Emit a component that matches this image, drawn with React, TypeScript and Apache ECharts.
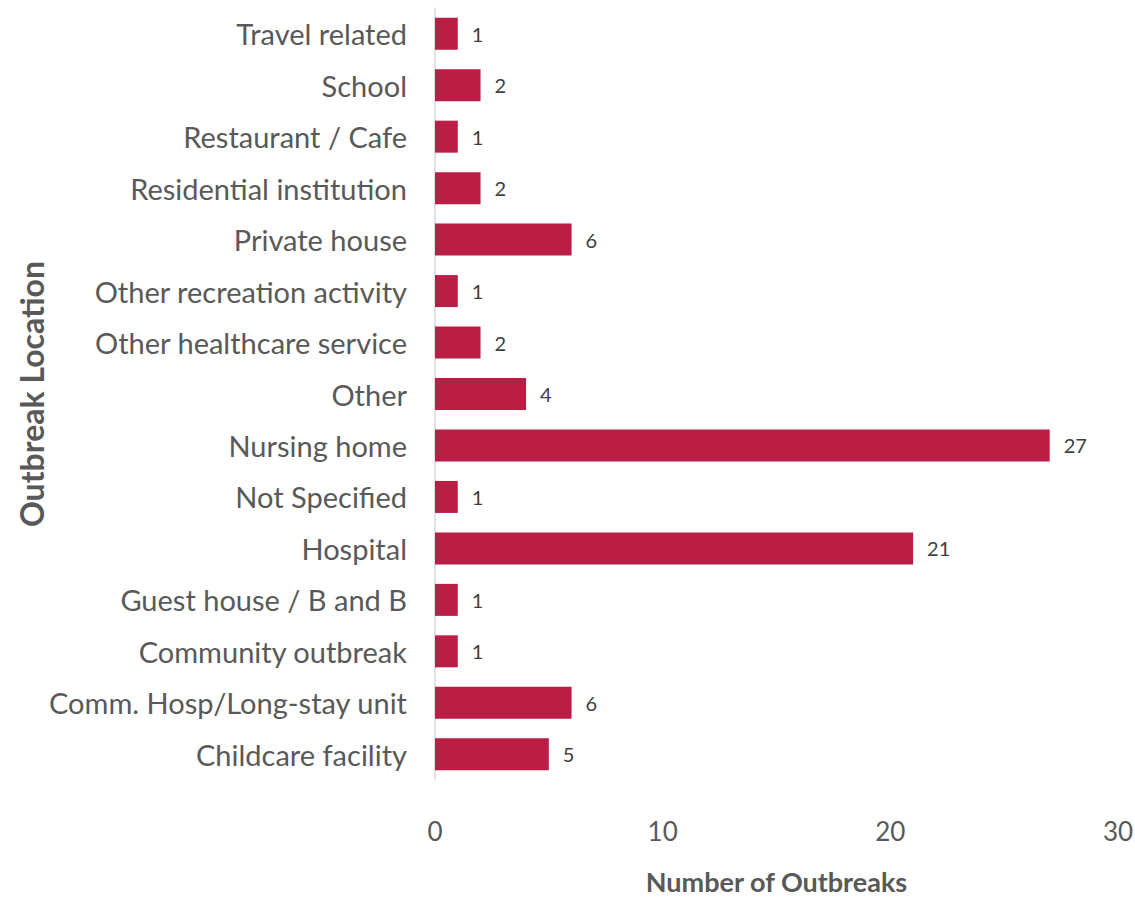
import React, { useEffect, useRef } from "react";
import * as echarts from "echarts";

const categories = [
  "Travel related",
  "School",
  "Restaurant / Cafe",
  "Residential institution",
  "Private house",
  "Other recreation activity",
  "Other healthcare service",
  "Other",
  "Nursing home",
  "Not Specified",
  "Hospital",
  "Guest house / B and B",
  "Community outbreak",
  "Comm. Hosp/Long-stay unit",
  "Childcare facility",
];
const outbreaks = [1, 2, 1, 2, 6, 1, 2, 4, 27, 1, 21, 1, 1, 6, 5];
const xTicks = [0, 10, 20, 30];

const FONT = "Lato, 'Noto Sans', sans-serif";
const TEXT = "#595959";

export default function App() {
  const ref = useRef<HTMLDivElement>(null);
  useEffect(() => {
    if (!ref.current) return;
    const chart = echarts.init(ref.current, undefined, { renderer: "svg" });
    chart.setOption({
      animation: false,
      backgroundColor: "#ffffff",
      grid: {
        left: 435,
        right: 17,
        top: 8,
        bottom: 118,
        containLabel: false,
        outerBoundsMode: "none",
      },
      xAxis: {
        type: "value",
        min: xTicks[0],
        max: xTicks[xTicks.length - 1],
        interval: 10,
        splitLine: { show: false },
        axisLine: { show: false },
        axisTick: { show: false },
        axisLabel: { color: TEXT, fontFamily: FONT, fontSize: 26, margin: 38 },
        name: "Number of Outbreaks",
        nameLocation: "middle",
        nameGap: 88,
        nameMoveOverlap: false,
        nameTextStyle: { color: TEXT, fontFamily: FONT, fontSize: 27, fontWeight: "bold" },
      },
      yAxis: {
        type: "category",
        data: categories,
        inverse: true,
        axisLine: { show: true, lineStyle: { color: "#d9d9d9", width: 1.5 } },
        axisTick: { show: false },
        axisLabel: { color: TEXT, fontFamily: FONT, fontSize: 29, margin: 28 },
        name: "Outbreak Location",
        nameLocation: "middle",
        nameGap: 388,
        nameMoveOverlap: false,
        nameTextStyle: { color: TEXT, fontFamily: FONT, fontSize: 32, fontWeight: "bold" },
      },
      series: [
        {
          type: "bar",
          data: outbreaks,
          barWidth: 32,
          itemStyle: { color: "#BA1E45" },
          label: {
            show: true,
            position: "right",
            distance: 14,
            color: "#404040",
            fontFamily: FONT,
            fontSize: 20,
          },
        },
      ],
    });
    return () => chart.dispose();
  }, []);
  return (
    <div
      ref={ref}
      style={{ position: "absolute", left: 0, top: 0, width: 1135, height: 898 }}
    />
  );
}
